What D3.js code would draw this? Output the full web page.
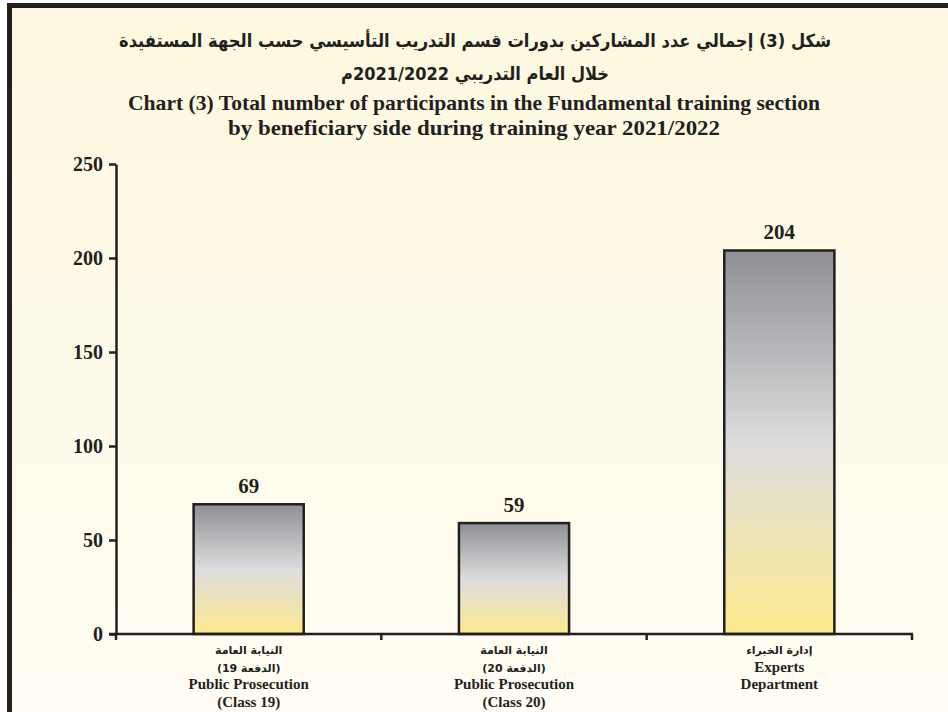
<!DOCTYPE html>
<html>
<head>
<meta charset="utf-8">
<script src="https://cdn.jsdelivr.net/npm/d3@7"></script>
<style>
  body { margin: 0; background: #fff; }
  svg { display: block; }
</style>
</head>
<body>
<div id="chart"></div>
<script>
// data
var values = [69, 59, 204];
var labelsAr = [
  ["النيابة العامة", "(الدفعة 19)"],
  ["النيابة العامة", "(الدفعة 20)"],
  ["إدارة الخبراء"]
];
var labelsEn = [
  ["Public Prosecution", "(Class 19)"],
  ["Public Prosecution", "(Class 20)"],
  ["Experts", "Department"]
];
var yTicks = [0, 50, 100, 150, 200, 250];
var titleAr = [
  "شكل (3) إجمالي عدد المشاركين بدورات قسم التدريب التأسيسي حسب الجهة المستفيدة",
  "خلال العام التدريبي 2021/2022م"
];
var titleEn = [
  "Chart (3) Total number of participants in the Fundamental training section",
  "by beneficiary side during training year 2021/2022"
];

var W = 948, H = 712;
var ink = "#231f20";
var serif = "'Liberation Serif', 'Times New Roman', serif";
var arab = "'DejaVu Sans', sans-serif";

var svg = d3.select("#chart").append("svg")
  .attr("width", W)
  .attr("height", H);

var defs = svg.append("defs");

var bg = defs.append("linearGradient")
  .attr("id", "bg")
  .attr("x1", 0).attr("y1", 0).attr("x2", 0).attr("y2", 1);
bg.append("stop").attr("offset", "0%").attr("stop-color", "#fdf8df");
bg.append("stop").attr("offset", "100%").attr("stop-color", "#fffdf4");

var barGrad = defs.append("linearGradient")
  .attr("id", "barGrad")
  .attr("x1", 0).attr("y1", 0).attr("x2", 0).attr("y2", 1);
barGrad.append("stop").attr("offset", "0%").attr("stop-color", "#8f9094");
barGrad.append("stop").attr("offset", "50%").attr("stop-color", "#dcdcde");
barGrad.append("stop").attr("offset", "68%").attr("stop-color", "#e9e2c2");
barGrad.append("stop").attr("offset", "100%").attr("stop-color", "#fde98c");

// frame
svg.append("rect")
  .attr("x", 9.5).attr("y", 5.5)
  .attr("width", W + 20).attr("height", H + 20)
  .attr("fill", "url(#bg)")
  .attr("stroke", ink)
  .attr("stroke-width", 5);

// titles
svg.selectAll(".titleAr")
  .data(titleAr)
  .enter().append("text")
  .attr("class", "titleAr")
  .attr("x", 475)
  .attr("y", function(d, i) { return 47 + i * 33; })
  .attr("direction", "rtl")
  .attr("text-anchor", "middle")
  .attr("font-family", arab)
  .attr("font-weight", "bold")
  .attr("font-size", 18)
  .attr("fill", ink)
  .attr("textLength", function(d, i) { return i == 0 ? 712 : 268; })
  .attr("lengthAdjust", "spacingAndGlyphs")
  .text(function(d) { return d; });

svg.selectAll(".titleEn")
  .data(titleEn)
  .enter().append("text")
  .attr("class", "titleEn")
  .attr("x", 474)
  .attr("y", function(d, i) { return 110 + i * 25; })
  .attr("text-anchor", "middle")
  .attr("font-family", serif)
  .attr("font-weight", "bold")
  .attr("font-size", 22)
  .attr("fill", ink)
  .attr("textLength", function(d, i) { return i == 0 ? 692 : 492; })
  .attr("lengthAdjust", "spacingAndGlyphs")
  .text(function(d) { return d; });

// scales
var x = d3.scaleBand()
  .domain(d3.range(values.length))
  .range([116, 912])
  .paddingInner(0.585)
  .paddingOuter(0.2925);

var y = d3.scaleLinear()
  .domain([0, 250])
  .range([634, 164]);

// bars
svg.selectAll(".bar")
  .data(values)
  .enter().append("rect")
  .attr("class", "bar")
  .attr("x", function(d, i) { return x(i); })
  .attr("y", function(d) { return y(d); })
  .attr("width", x.bandwidth())
  .attr("height", function(d) { return y(0) - y(d); })
  .attr("fill", "url(#barGrad)")
  .attr("stroke", ink)
  .attr("stroke-width", 2.5);

svg.selectAll(".val")
  .data(values)
  .enter().append("text")
  .attr("class", "val")
  .attr("x", function(d, i) { return x(i) + x.bandwidth() / 2; })
  .attr("y", function(d) { return y(d) - 11; })
  .attr("text-anchor", "middle")
  .attr("font-family", serif)
  .attr("font-weight", "bold")
  .attr("font-size", 21)
  .attr("fill", ink)
  .text(function(d) { return d; });

// y axis
var yAxis = svg.append("g")
  .attr("transform", "translate(116,0)")
  .call(d3.axisLeft(y).tickValues(yTicks).tickSize(7).tickSizeOuter(0).tickPadding(6));
yAxis.select(".domain").attr("stroke", ink).attr("stroke-width", 2.5);
yAxis.selectAll(".tick line").attr("stroke", ink).attr("stroke-width", 2.5);
yAxis.selectAll(".tick text")
  .attr("font-family", serif)
  .attr("font-weight", "bold")
  .attr("font-size", 20)
  .attr("fill", ink);

// x axis with ticks on the band edges
var step = x.step();
var edges = [x.range()[0]].concat(values.map(function(d, i) {
  return x(i) + x.bandwidth() + step * x.paddingInner() / 2;
}));

svg.append("line")
  .attr("x1", 109).attr("x2", edges[edges.length - 1] + 1)
  .attr("y1", y(0)).attr("y2", y(0))
  .attr("stroke", ink)
  .attr("stroke-width", 2.5);

svg.selectAll(".xtick")
  .data(edges)
  .enter().append("line")
  .attr("class", "xtick")
  .attr("x1", function(d) { return d; })
  .attr("x2", function(d) { return d; })
  .attr("y1", y(0))
  .attr("y2", y(0) + 6)
  .attr("stroke", ink)
  .attr("stroke-width", 2.5);

// category labels
var cats = svg.selectAll(".cat")
  .data(values)
  .enter().append("g")
  .attr("class", "cat")
  .attr("transform", function(d, i) {
    return "translate(" + (x(i) + x.bandwidth() / 2) + ",0)";
  });

cats.each(function(d, i) {
  var g = d3.select(this);
  var lines = labelsAr[i].map(function(s) { return { t: s, ar: true }; })
    .concat(labelsEn[i].map(function(s) { return { t: s, ar: false }; }));
  g.selectAll("text")
    .data(lines)
    .enter().append("text")
    .attr("x", 0)
    .attr("y", function(l, j) { return 654 + j * 17.7; })
    .attr("direction", function(l) { return l.ar ? "rtl" : "ltr"; })
    .attr("text-anchor", "middle")
    .attr("font-family", function(l) { return l.ar ? arab : serif; })
    .attr("font-weight", "bold")
    .attr("font-size", function(l) { return l.ar ? 11 : 15; })
    .attr("fill", ink)
    .text(function(l) { return l.t; });
});
</script>
</body>
</html>
